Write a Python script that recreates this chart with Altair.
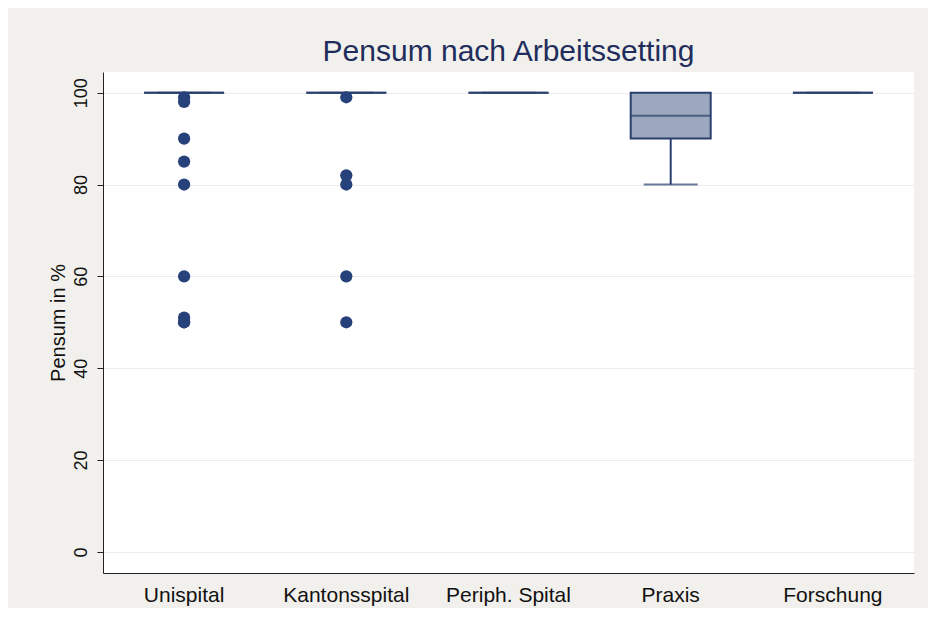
import altair as alt
import pandas as pd

categories = ["Unispital", "Kantonsspital", "Periph. Spital", "Praxis", "Forschung"]
q1 = [100, 100, 100, 90, 100]
median = [100, 100, 100, 95, 100]
q3 = [100, 100, 100, 100, 100]
whisk_lo = [100, 100, 100, 80, 100]
whisk_hi = [100, 100, 100, 100, 100]

out_cat = ["Unispital"] * 9 + ["Kantonsspital"] * 5
out_val = [99, 98, 90, 85, 80, 60, 51, 50, 50,
           99, 82, 80, 60, 50]

summary = pd.DataFrame({"cat": categories, "q1": q1, "med": median, "q3": q3,
                        "lo": whisk_lo, "hi": whisk_hi})
outliers = pd.DataFrame({"cat": out_cat, "val": out_val})

line_col = "#2b3f6e"
x = alt.X("cat:N", sort=categories, title=None,
          scale=alt.Scale(paddingInner=0, paddingOuter=0),
          axis=alt.Axis(labelAngle=0, ticks=False, grid=False, labelFontSize=21,
                        labelPadding=11, labelColor="#111", domainColor="#222",
                        labelFont="Liberation Sans"))
yscale = alt.Scale(domain=[-4.6, 104.5], nice=False, zero=False)
yaxis = alt.Axis(values=[0, 20, 40, 60, 80, 100], labelAngle=270, labelFontSize=18,
                 labelFont="Liberation Sans", labelColor="#111", tickColor="#222",
                 tickSize=6, labelPadding=7, domainColor="#222", gridColor="#ececec",
                 title="Pensum in %", titleFontSize=20, titleFont="Liberation Sans",
                 titleFontWeight="normal", titleColor="#111", titlePadding=4)

base = alt.Chart(summary)

whisk = base.mark_rule(color=line_col, strokeWidth=2).encode(
    x=x, y=alt.Y("lo:Q", scale=yscale, axis=yaxis), y2="q1:Q")
cap = base.mark_tick(color=line_col, size=54, thickness=2, orient="horizontal").encode(
    x=x, y=alt.Y("lo:Q", scale=yscale))
box = base.mark_bar(size=80, fill="#9ba8be", stroke=line_col, strokeWidth=2).encode(
    x=x, y=alt.Y("q3:Q", scale=yscale), y2="q1:Q")
med = base.mark_tick(color=line_col, size=80, thickness=2, orient="horizontal").encode(
    x=x, y=alt.Y("med:Q", scale=yscale))
pts = alt.Chart(outliers).mark_circle(size=150, color="#27427a", opacity=1).encode(
    x=x, y=alt.Y("val:Q", scale=yscale))

chart = alt.layer(whisk, cap, box, med, pts).properties(
    width=811, height=501,
    autosize=alt.AutoSizeParams(type="none"),
    padding={"left": 95, "top": 64, "right": 14, "bottom": 35},
    background="#f1f0ec",
    title=alt.TitleParams("Pensum nach Arbeitssetting", fontSize=30,
                          font="Liberation Sans", fontWeight="normal",
                          color="#1f2d5c", anchor="middle", offset=5),
).configure_view(fill="white", strokeWidth=0)

chart.save("out.html", embed_options={"renderer": "svg", "actions": False})
